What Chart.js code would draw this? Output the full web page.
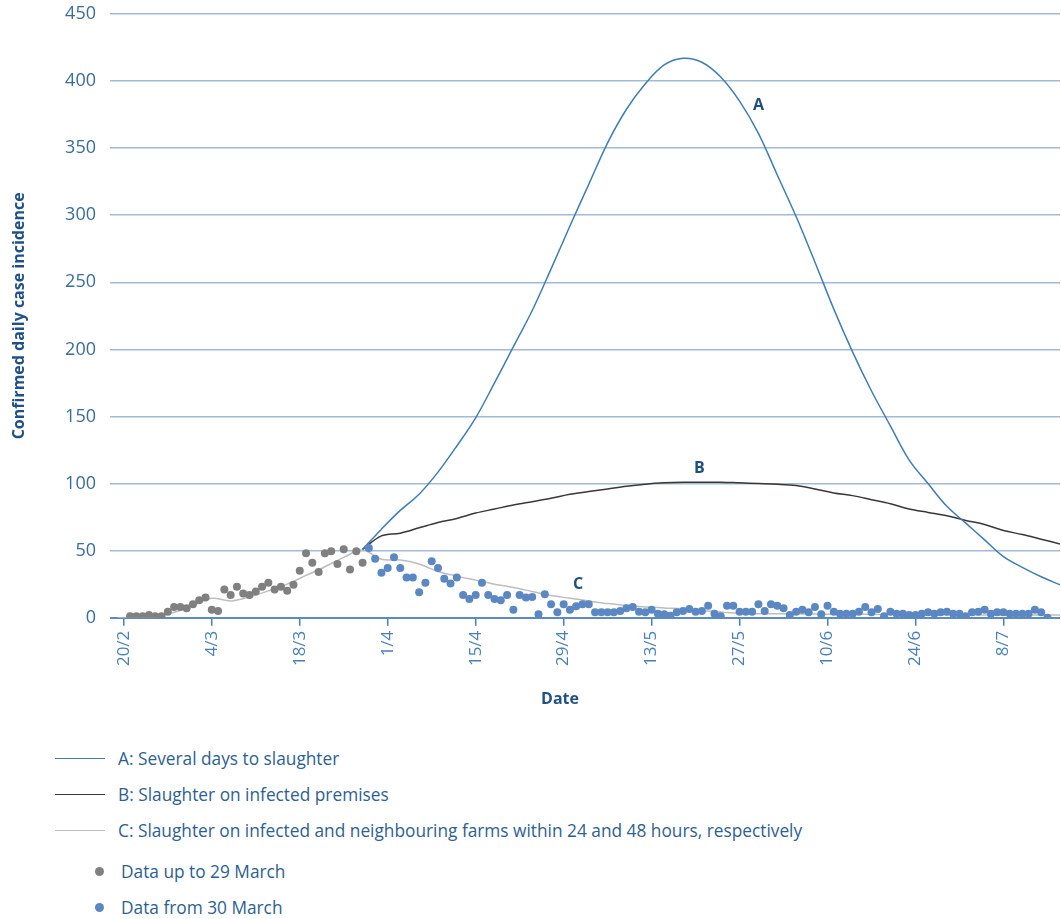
<!DOCTYPE html>
<html>
<head>
<meta charset="utf-8">
<title>Confirmed daily case incidence</title>
<script src="https://cdn.jsdelivr.net/npm/chart.js@4.4.1/dist/chart.umd.min.js"></script>
<style>
  html, body { margin: 0; padding: 0; background: #fff; overflow: hidden; }
  body { width: 1061px; height: 919px; position: relative; font-family: "Open Sans", sans-serif; }
  #wrap { position: absolute; left: 0; top: 0; width: 1064px; height: 725px; }
  #x-title { position: absolute; left: 560px; top: 687px; transform: translateX(-50%);
             font-weight: 700; font-size: 16px; color: #1f5186; }
  #legend { position: absolute; left: 55px; top: 740px; }
  .leg-row { height: 36px; display: flex; align-items: center; white-space: nowrap;
             font-size: 17.3px; color: #2e5f91; }
  .leg-row.first-dot { margin-top: 5px; }
  .leg-line { width: 50px; height: 0; border-top: 1.5px solid; margin-right: 13px; }
  .leg-dot { width: 9px; height: 9px; border-radius: 50%; margin-left: 40px; margin-right: 17px; }
</style>
</head>
<body>
<div id="wrap"><canvas id="chart" width="1064" height="725"></canvas></div>
<div id="x-title">Date</div>
<div id="legend"></div>

<script>
// ---- data (days counted from 20/2) ----
const tickDays = [0, 14, 28, 42, 56, 70, 84, 98, 112, 126, 140];
const tickLabels = ['20/2', '4/3', '18/3', '1/4', '15/4', '29/4', '13/5', '27/5', '10/6', '24/6', '8/7'];

// model curves, sampled every 3 days
const lineDays = [-1, 2, 5, 8, 11, 14, 17, 20, 23, 26, 29, 32, 35, 38, 41, 44, 47, 50, 53, 56,
  59, 62, 65, 68, 71, 74, 77, 80, 83, 86, 89, 92, 95, 98, 101, 104, 107, 110, 113, 116,
  119, 122, 125, 128, 131, 134, 137, 140, 143, 146, 149];

const curveA = [null, null, null, null, null, null, null, null, null, null, null, null, null,
  51, 66, 80, 92, 108.5, 128, 149, 175, 202, 229, 260, 292, 323, 354, 379, 398, 412, 417,
  414, 403, 385, 361, 330, 299, 265, 230, 198, 169, 143, 117.5, 100, 83, 70.5, 58, 45.5, 37.5,
  30.5, 24.5];

const curveB = [null, null, null, null, null, null, null, null, null, null, null, null, null,
  51, 61, 63, 67, 71, 74, 78, 81, 84, 86.5, 89, 92, 94, 96, 98, 99.5, 100.5, 101, 101, 101,
  100.5, 100, 99.5, 98.5, 96, 93, 91, 88, 85, 81, 78.5, 76, 72.5, 69.5, 65, 62, 58.5, 55];

const curveC = [0, 0, 0.5, 4, 9, 14.5, 12.5, 15.5, 20, 25, 31.5, 38, 45, 50.5, 43.5, 43, 40,
  34.5, 31, 28, 25, 22.5, 19.5, 16.5, 14.5, 12.5, 10.5, 9.2, 8, 7.3, 6.6, 5.3, 4.2, 3.2, 3,
  3, 2.8, 2.7, 2.6, 2.5, 2.5, 2.4, 2.3, 2.2, 2.2, 2.1, 2, 2, 2, 2, 2];

// observed daily cases
const earlyFirstDay = 1;
const earlyCases = [1, 1, 1, 2, 1, 1, 4.5, 8, 8, 7, 10, 13, 15, 6, 5, 21, 17, 23, 18, 17, 19.5,
  23, 26, 21, 23, 20, 24.5, 35, 48, 41, 34, 48, 49.5, 40, 51, 36, 49.5, 41];

const lateFirstDay = 39;
const lateCases = [52, 44, 33.5, 37, 45, 37, 30, 30, 19, 26, 42, 37, 29, 25.5, 30, 17, 14, 17,
  26, 17, 14, 13, 17, 6, 17, 15, 15.5, 2.5, 17.5, 10, 4, 10, 6, 8.5, 10, 10, 4, 4, 4,
  4, 5, 7, 8, 4.5, 4, 6, 3, 2.5, 1.5, 4, 5, 6.5, 4.5, 5, 9, 3, 1, 9, 9, 4.5, 4.5, 4.5, 10, 5,
  10, 9, 7, 2, 4.5, 6, 4, 8, 2.5, 9, 4.5,
  3, 3, 3, 4.5, 8, 4, 6.5, 1, 4.5, 3, 3, 2, 2, 3, 4, 3, 4, 4.5, 3, 3, 1, 4, 4.5, 6, 3, 4, 4, 3,
  3, 3, 3, 6, 4, 0];

// curve letters, in data coordinates
const curveNotes = [
  { text: 'A', day: 101, value: 382 },
  { text: 'B', day: 91.6, value: 111 },
  { text: 'C', day: 72.3, value: 24.5 },
];

const BLUE_LINE = '#3f7db3';
const DARK_LINE = '#383838';
const LIGHT_LINE = '#bdbdbd';
const GREY_DOT = '#808080';
const BLUE_DOT = '#5b88c3';

const curvePoints = (vals) => lineDays
  .map((d, i) => ({ x: d, y: vals[i] }))
  .filter(p => p.y !== null);
const dailyPoints = (first, vals) => vals.map((v, i) => ({ x: first + i, y: v }));

function curve(label, vals, color) {
  return {
    label, data: curvePoints(vals), borderColor: color, backgroundColor: color,
    borderWidth: 1.5, pointRadius: 0, tension: 0.35, order: 2,
  };
}
function dots(label, first, vals, color) {
  return {
    label, data: dailyPoints(first, vals), showLine: false, borderWidth: 0,
    backgroundColor: color, borderColor: color, pointRadius: 4, order: 1,
  };
}

const notePlugin = {
  id: 'curveNotes',
  afterDatasetsDraw(chart) {
    const { ctx, scales: { x, y } } = chart;
    ctx.save();
    ctx.font = 'bold 16px "Open Sans"';
    ctx.fillStyle = '#1f4f80';
    ctx.textAlign = 'center';
    ctx.textBaseline = 'middle';
    curveNotes.forEach(n => ctx.fillText(n.text, x.getPixelForValue(n.day), y.getPixelForValue(n.value)));
    ctx.restore();
  }
};

const chart = new Chart(document.getElementById('chart'), {
  type: 'line',
  data: {
    datasets: [
      curve('A: Several days to slaughter', curveA, BLUE_LINE),
      curve('B: Slaughter on infected premises', curveB, DARK_LINE),
      curve('C: Slaughter on infected and neighbouring farms within 24 and 48 hours, respectively', curveC, LIGHT_LINE),
      dots('Data up to 29 March', earlyFirstDay, earlyCases, GREY_DOT),
      dots('Data from 30 March', lateFirstDay, lateCases, BLUE_DOT),
    ]
  },
  options: {
    responsive: false,
    animation: false,
    devicePixelRatio: 1,
    layout: { padding: { top: 14, right: 0, bottom: 0, left: 0 } },
    plugins: { legend: { display: false }, tooltip: { enabled: false } },
    scales: {
      x: {
        type: 'linear',
        min: -2.2,
        max: 149,
        afterBuildTicks: (scale) => { scale.ticks = tickDays.map(v => ({ value: v })); },
        afterFit: (scale) => { scale.height = 107.3; scale.paddingLeft = 0; scale.paddingRight = 0; },
        border: { display: false },
        grid: { drawOnChartArea: false, drawTicks: true, tickLength: 8, color: '#4c7fb8', lineWidth: 1.5 },
        ticks: {
          autoSkip: false, maxRotation: 90, minRotation: 90, padding: 5,
          color: '#4a80b8', font: { family: 'Open Sans', size: 17 },
          callback: (v) => tickLabels[tickDays.indexOf(v)],
        },
      },
      y: {
        min: 0,
        max: 450,
        afterFit: (scale) => { scale.width = 110; scale.paddingTop = 0; scale.paddingBottom = 0; },
        border: { display: false },
        grid: {
          drawTicks: false,
          color: (c) => c.tick && c.tick.value === 0 ? '#5b8bc2' : '#a3b9d8',
          lineWidth: (c) => c.tick && c.tick.value === 0 ? 2 : 1.5,
        },
        ticks: { stepSize: 50, padding: 14, color: '#3b6c9c', font: { family: 'Open Sans', size: 18 } },
        title: {
          display: true, text: 'Confirmed daily case incidence', color: '#1f5186',
          font: { family: 'Open Sans', size: 16, weight: 'bold' }, padding: { top: 10, bottom: 0 },
        },
      },
    },
  },
  plugins: [notePlugin],
});

// legend below the chart, built from the datasets
const legendEl = document.getElementById('legend');
let firstDot = true;
chart.data.datasets.forEach(ds => {
  const row = document.createElement('div');
  row.className = 'leg-row';
  const mark = document.createElement('span');
  if (ds.showLine === false) {
    mark.className = 'leg-dot';
    mark.style.background = ds.backgroundColor;
    if (firstDot) { row.classList.add('first-dot'); firstDot = false; }
  } else {
    mark.className = 'leg-line';
    mark.style.borderTopColor = ds.borderColor;
  }
  const txt = document.createElement('span');
  txt.textContent = ds.label;
  row.appendChild(mark);
  row.appendChild(txt);
  legendEl.appendChild(row);
});
</script>
</body>
</html>
